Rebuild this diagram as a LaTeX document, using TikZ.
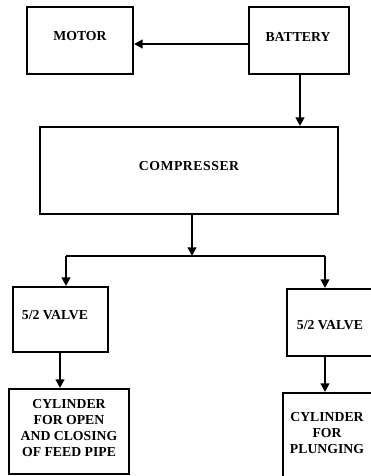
\documentclass[tikz,border=0pt]{standalone}
\usepackage{fontspec}
\setmainfont{Liberation Serif}
\usetikzlibrary{arrows.meta}
\tikzset{
  blk/.style={draw=black, line width=1.5pt, inner sep=0pt, align=center},
  lbl/.style={inner sep=0pt, align=center,
    font=\fontsize{10.3}{12}\selectfont\bfseries},
  conn/.style={line width=1.5pt, -{Triangle[length=6.5pt,width=6.5pt]}},
  wire/.style={line width=1.5pt},
}
\begin{document}
\begin{tikzpicture}[x=0.75pt,y=-0.75pt]
\clip (0,0) rectangle (371,476);
\node[blk, minimum width=106*0.75pt, minimum height=67*0.75pt] (motor) at (80,40.5) {};
\node[lbl] (motorT) at (80,36) {MOTOR};
\node[blk, minimum width=100*0.75pt, minimum height=67*0.75pt] (battery) at (299,40.5) {};
\node[lbl] (batteryT) at (298,37) {BATTERY};
\node[blk, minimum width=298*0.75pt, minimum height=87*0.75pt] (comp) at (189,170.5) {};
\node[lbl, font=\fontsize{10.3}{12}\selectfont\bfseries\addfontfeatures{LetterSpace=4}] (compT) at (189,166) {COMPRESSER};
\node[blk, minimum width=95*0.75pt, minimum height=65*0.75pt] (valveL) at (60.5,319.5) {};
\node[lbl] (valveLT) at (55,315) {5/2 VALVE};
\node[blk, minimum width=88*0.75pt, minimum height=67*0.75pt] (valveR) at (331,322.5) {};
\node[lbl] (valveRT) at (330,325) {5/2 VALVE};
\node[blk, minimum width=120*0.75pt, minimum height=85*0.75pt] (cylL) at (69,431.5) {};
\node[lbl] (cylLT) at (69,428) {CYLINDER\\FOR OPEN\\AND CLOSING\\OF FEED PIPE};
\node[blk, minimum width=92*0.75pt, minimum height=100*0.75pt] (cylR) at (329,443) {};
\node[lbl] (cylRT) at (327,433) {CYLINDER\\FOR\\PLUNGING};
\coordinate (split) at (192,256);
\coordinate (splitL) at (66,256);
\coordinate (splitR) at (325,256);
\draw[conn] (battery.west |- 0,44) -- (motor.east |- 0,44);
\draw[conn] (battery.south -| 300,0) -- (comp.north -| 300,0);
\draw[conn] (comp.south -| split) -- (split);
\draw[wire] (splitL) -- (splitR);
\draw[conn] (splitL) -- (valveL.north -| splitL);
\draw[conn] (splitR) -- (valveR.north -| splitR);
\draw[conn] (valveL.south -| 60,0) -- (cylL.north -| 60,0);
\draw[conn] (valveR.south -| 325,0) -- (cylR.north -| 325,0);
\end{tikzpicture}
\end{document}
